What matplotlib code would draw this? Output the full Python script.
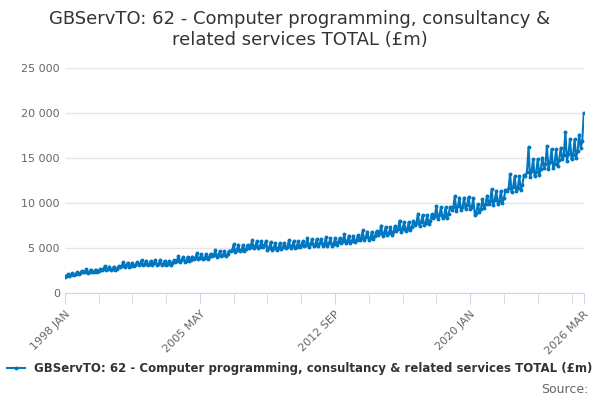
import numpy as np
import matplotlib.pyplot as plt

# monthly values, £m, 1998 JAN .. 2026 MAR
y1998 = [1800, 1850, 2050, 1880, 1980, 2200, 2000, 2060, 2300, 2100, 2200, 2450]
y1999 = [2260, 2330, 2640, 2230, 2350, 2590, 2260, 2330, 2590, 2280, 2400, 2620]
y2000 = [2540, 2620, 2970, 2510, 2650, 2920, 2540, 2620, 2920, 2570, 2700, 2940]
y2001 = [2910, 3010, 3410, 2880, 3040, 3350, 2910, 3010, 3350, 2950, 3100, 3380]
y2002 = [3100, 3200, 3630, 3070, 3230, 3560, 3100, 3200, 3560, 3140, 3300, 3600]
y2003 = [3100, 3200, 3630, 3070, 3230, 3560, 3100, 3200, 3560, 3140, 3300, 3600]
y2004 = [3480, 3590, 4070, 3440, 3630, 4000, 3480, 3590, 4000, 3520, 3700, 4030]
y2005 = [3760, 3880, 4400, 3720, 3920, 4320, 3760, 3880, 4320, 3800, 4000, 4360]
y2006 = [4040, 4170, 4730, 4000, 4210, 4640, 4040, 4170, 4640, 4090, 4300, 4690]
y2007 = [4610, 4750, 5390, 4560, 4800, 5290, 4610, 4750, 5290, 4660, 4900, 5340]
y2008 = [4980, 5140, 5830, 4930, 5190, 5720, 4980, 5140, 5720, 5040, 5300, 5780]
y2009 = [4790, 4950, 5610, 4740, 5000, 5510, 4790, 4950, 5510, 4850, 5100, 5560]
y2010 = [4980, 5140, 5830, 4930, 5190, 5720, 4980, 5140, 5720, 5040, 5300, 5780]
y2011 = [5170, 5340, 6050, 5120, 5390, 5940, 5170, 5340, 5940, 5230, 5500, 6000]
y2012 = [5260, 5430, 6160, 5210, 5490, 6050, 5260, 5430, 6050, 5320, 5600, 6100]
y2013 = [5550, 5720, 6490, 5490, 5780, 6370, 5550, 5720, 6370, 5610, 5900, 6430]
y2014 = [5920, 6110, 6930, 5860, 6170, 6800, 5920, 6110, 6800, 5990, 6300, 6870]
y2015 = [6390, 6600, 7480, 6320, 6660, 7340, 6390, 6600, 7340, 6460, 6800, 7410]
y2016 = [6860, 7080, 8030, 6790, 7150, 7880, 6860, 7080, 7880, 6940, 7300, 7960]
y2017 = [7520, 7760, 8800, 7440, 7840, 8640, 7520, 7760, 8640, 7600, 8000, 8720]
y2018 = [8270, 8540, 9680, 8180, 8620, 9500, 8270, 8540, 9500, 8360, 8800, 9590]
y2019 = [9210, 9510, 10780, 9110, 9600, 10580, 9210, 9510, 10580, 9310, 9800, 10680]
y2020 = [9300, 9500, 10500, 8700, 8900, 9900, 9000, 9300, 10400, 9400, 9900, 10800]
y2021 = [9870, 10190, 11550, 9770, 10290, 11340, 9870, 10190, 11340, 9980, 10500, 11450]
y2022 = [11280, 11640, 13200, 11160, 11760, 12960, 11280, 11640, 12960, 11400, 12000, 13080]
y2023 = [12970, 13390, 16200, 12830, 13520, 14900, 12970, 13390, 14900, 13110, 13800, 15040]
y2024 = [13910, 14360, 16280, 13760, 14500, 15980, 13910, 14360, 15980, 14060, 14800, 16130]
y2025 = [14850, 15330, 17900, 14690, 15480, 17060, 14850, 15330, 17060, 15010, 15800, 17600]
y2026 = [16100, 16900, 20000]

values = (y1998 + y1999 + y2000 + y2001 + y2002 + y2003 + y2004 + y2005 + y2006 + y2007
          + y2008 + y2009 + y2010 + y2011 + y2012 + y2013 + y2014 + y2015 + y2016 + y2017
          + y2018 + y2019 + y2020 + y2021 + y2022 + y2023 + y2024 + y2025 + y2026)
tick_labels = ['1998 JAN', '2005 MAY', '2012 SEP', '2020 JAN', '2026 MAR']
tick_pos = [0, 88, 176, 264, 338]

color = '#0077c0'
fig = plt.figure(figsize=(6, 4), dpi=100)
ax = fig.add_axes([0.108, 0.268, 0.865, 0.562])
x = np.arange(len(values))
ax.plot(x, values, color=color, lw=1.5, marker='o', ms=1.8)

ax.set_xlim(0, len(values) - 1)
ax.set_ylim(0, 25000)
ax.set_yticks(range(0, 25001, 5000))
ax.set_yticklabels(['0', '5 000', '10 000', '15 000', '20 000', '25 000'])
ax.set_xticks(tick_pos)
ax.set_xticklabels(tick_labels, rotation=45, ha='right', rotation_mode='anchor')
ax.set_xticks(range(0, len(values), 22), minor=True)
ax.tick_params(axis='x', which='both', length=8, color='#ccd6eb', colors='#666666', labelsize=8)
ax.tick_params(axis='y', length=0, colors='#666666', labelsize=8)
ax.grid(axis='y', color='#e6e6e6', lw=1)
ax.set_axisbelow(True)
for s in ['top', 'right', 'left']:
    ax.spines[s].set_visible(False)
ax.spines['bottom'].set_color('#ccd6eb')

fig.suptitle('GBServTO: 62 - Computer programming, consultancy &\nrelated services TOTAL (£m)',
             y=0.975, fontsize=13, color='#333333')
fig.legend(handles=ax.lines,
           labels=['GBServTO: 62 - Computer programming, consultancy & related services TOTAL (£m)'],
           loc='lower center', bbox_to_anchor=(0.5, 0.035), frameon=False,
           prop={'weight': 'bold', 'size': 8.5}, labelcolor='#333333', handlelength=1.5)
fig.text(0.98, 0.01, 'Source:', ha='right', va='bottom', fontsize=9, color='#666666')
fig.savefig('out.png')
